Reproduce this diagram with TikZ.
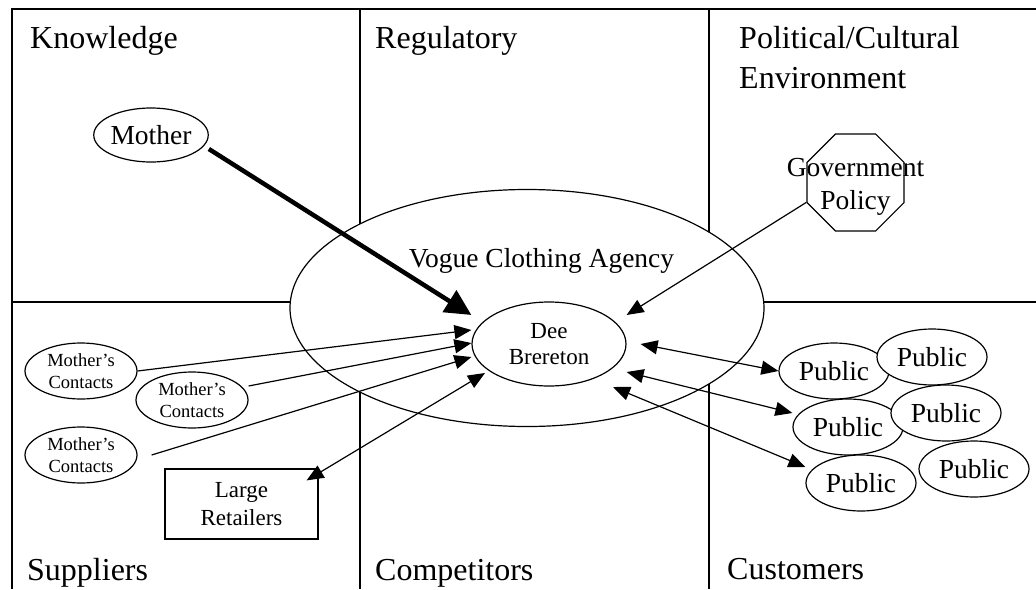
\documentclass[tikz,border=0pt]{standalone}
\usepackage{fontspec}
\setmainfont{Liberation Serif}
\usetikzlibrary{shapes.geometric,arrows.meta}
\tikzset{
  frameline/.style={line width=1.5pt},
  sec/.style={font=\fontsize{32}{38}\selectfont, inner sep=0pt, anchor=base west},
  oval/.style={ellipse, draw, fill=white, line width=1.2pt, inner sep=0pt, align=center},
  pub/.style={oval, minimum width=110pt, minimum height=56pt, font=\fontsize{27.5}{32}\selectfont},
  contact/.style={oval, minimum width=112pt, minimum height=56pt, font=\fontsize{18.5}{22}\selectfont},
  arr/.style={line width=1.2pt, -{Triangle[length=17pt,width=14pt]}},
  darr/.style={line width=1.2pt, {Triangle[length=17pt,width=14pt]}-{Triangle[length=17pt,width=14pt]}},
  bigarr/.style={line width=4.5pt, -{Triangle[length=26pt,width=25pt]}}
}
\begin{document}
\begin{tikzpicture}[x=1pt,y=-1pt]
\useasboundingbox (0,0) rectangle (1036,589);
% frame
\draw[frameline] (1036,9) -- (12,9) -- (12,589);
\draw[frameline] (360,9) -- (360,589);
\draw[frameline] (709,9) -- (709,589);
\draw[frameline] (12,302) -- (1036,302);
% agency ellipse
\node[ellipse, draw, fill=white, line width=1.2pt, minimum width=474pt, minimum height=237pt, inner sep=0pt] (agency) at (527,308) {};
\node[font=\fontsize{27.5}{32}\selectfont, inner sep=0pt, anchor=base] (agencylbl) at (541.5,267) {Vogue Clothing Agency};
% section labels
\node[sec] (know) at (30,48) {Knowledge};
\node[sec] (reg) at (375,48) {Regulatory};
\node[sec] (pol) at (739,48) {Political/Cultural};
\node[sec] (env) at (739,88) {Environment};
\node[sec] (sup) at (27,580) {Suppliers};
\node[sec] (comp) at (375,580) {Competitors};
\node[sec] (cust) at (727,579) {Customers};
% nodes
\node[oval, minimum width=112pt, minimum height=54pt, font=\fontsize{27.5}{32}\selectfont] (mother) at (151,135) {Mother};
\node[oval, minimum width=154pt, minimum height=84pt, font=\fontsize{23}{26}\selectfont] (dee) at (549,344) {Dee\\Brereton};
\node[regular polygon, regular polygon sides=8, draw, line width=1.2pt, minimum size=105pt, inner sep=0pt,
      label={[font=\fontsize{27.5}{33}\selectfont, align=center, inner sep=0pt, yshift=-4pt]center:Government\\Policy}] (gov) at (855.5,182.5) {};
\node[contact] (mc1) at (81,371) {Mother's\\Contacts};
\node[contact] (mc2) at (192,400) {Mother's\\Contacts};
\node[contact] (mc3) at (81,455) {Mother's\\Contacts};
\node[draw, fill=white, line width=1.2pt, minimum width=153pt, minimum height=70pt, inner sep=0pt, align=center,
      font=\fontsize{23}{28}\selectfont] (retail) at (241.5,504) {Large\\Retailers};
\node[pub] (p1) at (834,371) {Public};
\node[pub] (p2) at (932,357) {Public};
\node[pub] (p3) at (848,427) {Public};
\node[pub] (p4) at (946,413) {Public};
\node[pub] (p5) at (861,483) {Public};
\node[pub] (p6) at (974,469) {Public};
% connectors
\draw[bigarr] ([yshift=-14pt]mother.east) -- ([yshift=29pt]dee.west);
\draw[arr] (gov.202.5) -- ([yshift=29pt]dee.east);
\draw[arr] (mc1.east) -- ([yshift=14pt]dee.west);
\draw[arr] ([yshift=14pt]mc2.east) -- ([yshift=1pt]dee.west);
\draw[arr] ([xshift=14pt]mc3.east) -- ([yshift=-13pt]dee.west);
\draw[darr] ([shift={(-12pt,-12pt)}]retail.north east) -- ([shift={(-64pt,-29pt)}]dee.center);
\draw[darr] ([xshift=14pt]dee.east) -- (p1.west);
\draw[darr] ([yshift=-28pt]dee.east) -- ([yshift=14pt]p3.west);
\draw[darr] ([shift={(64pt,-43pt)}]dee.center) -- ([yshift=16pt]p5.west);
\end{tikzpicture}
\end{document}
